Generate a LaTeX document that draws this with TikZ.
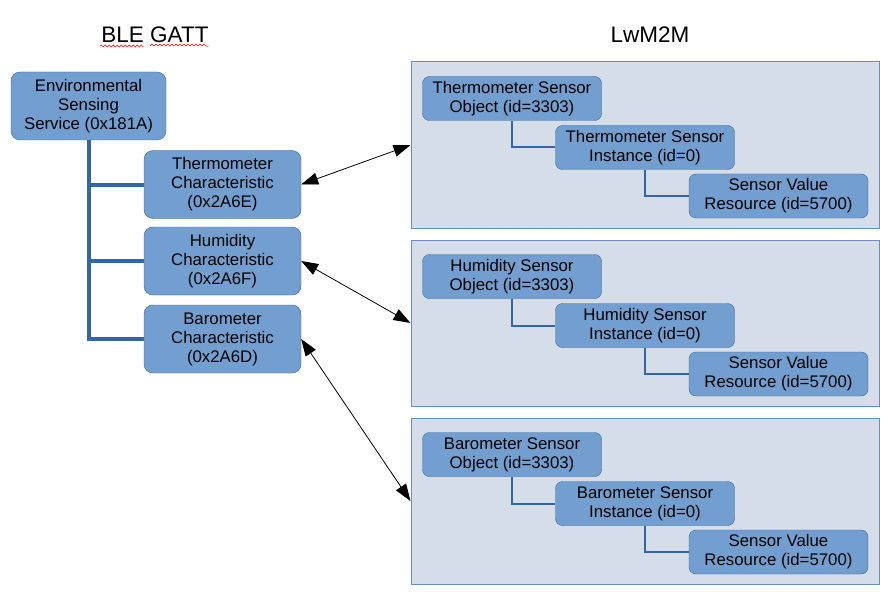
\documentclass[tikz,border=0pt]{standalone}
\usepackage{fontspec}
\setmainfont{Liberation Sans}
\usetikzlibrary{arrows.meta,decorations.pathmorphing}
\definecolor{boxfill}{HTML}{729FCF}
\definecolor{boxline}{HTML}{3465A4}
\definecolor{panelfill}{HTML}{D5DEE8}
\definecolor{panelline}{HTML}{6C8EBF}
\tikzset{
 gattbox/.style={draw=boxline,fill=boxfill,rounded corners=9pt,align=center,inner sep=0pt,
   font=\fontsize{16.8}{19}\selectfont},
 m2mbox/.style={gattbox,rounded corners=7pt,minimum width=179pt,minimum height=44pt},
 panel/.style={draw=panelline,fill=panelfill,minimum width=468pt,minimum height=166pt,
   inner sep=0pt,line width=1pt},
 title/.style={font=\fontsize{22.5}{26}\selectfont},
 link/.style={{Triangle[length=17pt,width=12pt]}-{Triangle[length=17pt,width=12pt]},line width=0.8pt},
}

\begin{document}
\begin{tikzpicture}[x=1pt,y=-1pt]
\useasboundingbox (0,0) rectangle (889,599);
\node (gatt) at (155,35)[title]{BLE GATT};
\node (lwm2m) at (650,35)[title]{LwM2M};
\draw[red,decorate,decoration={snake,amplitude=1pt,segment length=4pt}]
  (100,46) -- (142,46) (150,46) -- (209,46);
\node (svc) at (88.5,106)[gattbox,minimum width=155pt,minimum height=68pt]
  {Environmental\\Sensing\\Service (0x181A)};
\foreach \t/\c/\y[count=\i] in {Thermometer/E/184.5, Humidity/F/261, Barometer/D/339}{
\node (char\i) at (222.5,\y)[gattbox,minimum width=157pt,minimum height=68pt]
  {\t\\Characteristic\\(0x2A6\c)};
\draw[boxline,line width=4pt] (svc.south) |- (char\i.west);
}
\foreach \t[count=\i,evaluate=\i as \y using 62+(\i-1)*178] in {Thermometer, Humidity, Barometer}{
\node (panel\i) at (645,\y+83)[panel]{};
\node (obj\i) at (512,\y+36.5)[m2mbox]{\t{} Sensor\\Object (id=3303)};
\node (inst\i) at (645,\y+85.5)[m2mbox]{\t{} Sensor\\Instance (id=0)};
\node (res\i) at (778.5,\y+134)[m2mbox]{Sensor Value\\Resource (id=5700)};
\draw[boxline,line width=2pt] (obj\i.south) |- (inst\i.west) (inst\i.south) |- (res\i.west);
\draw[link] (char\i.east) -- (panel\i.west);
}
\end{tikzpicture}
\end{document}
